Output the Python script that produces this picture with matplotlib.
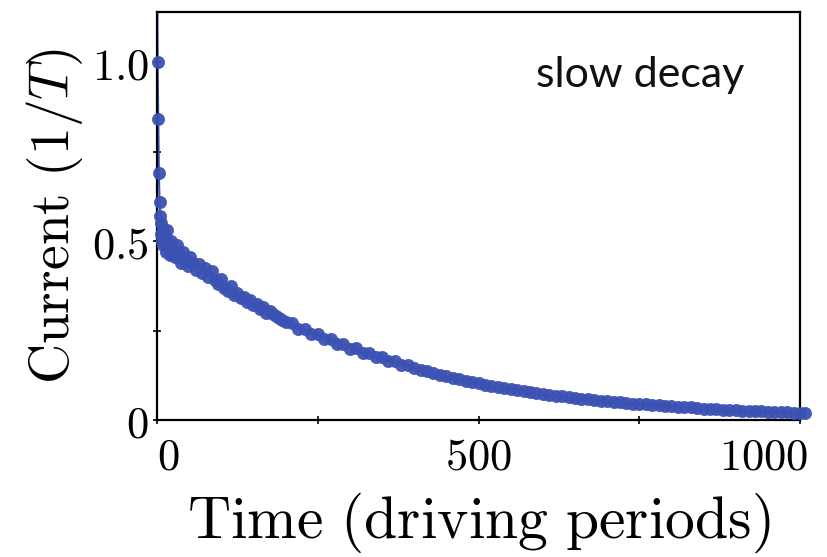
import matplotlib
matplotlib.use('Agg')
import matplotlib.pyplot as plt
import matplotlib.transforms as mtransforms

plt.rcParams['mathtext.fontset'] = 'cm'
plt.rcParams['font.family'] = 'DejaVu Serif'

## Data: current vs time, read per driving period
time = [0, 1, 2, 3, 4, 5, 6, 7, 8, 9, 10, 12, 14, 16, 18, 20, 22, 25, 28, 31,
        34, 37, 40, 44, 48, 52, 56, 60, 65, 70, 75, 80, 85, 90, 95, 100,
        105, 110, 115, 120, 125, 130, 135, 140, 145, 150, 155, 160, 165, 170,
        175, 180, 185, 190, 195, 200, 210, 220, 230, 240, 250, 260, 270, 280,
        290, 300, 310, 320, 330, 340, 350, 360, 370, 380, 390, 400, 410, 420,
        430, 440, 450, 460, 470, 480, 490, 500, 510, 520, 530, 540, 550, 560,
        570, 580, 590, 600, 610, 620, 630, 640, 650, 660, 670, 680, 690, 700,
        710, 720, 730, 740, 750, 760, 770, 780, 790, 800, 810, 820, 830, 840,
        850, 860, 870, 880, 890, 900, 910, 920, 930, 940, 950, 960, 970, 980,
        990, 1000, 1008]
current = [1.40, 1.00, 0.84, 0.69, 0.61, 0.57, 0.55, 0.52, 0.50, 0.535, 0.49,
           0.51, 0.47, 0.53, 0.48, 0.46, 0.50, 0.47, 0.455, 0.49,
           0.46, 0.44, 0.47, 0.445, 0.43, 0.455, 0.44, 0.42, 0.435, 0.41,
           0.425, 0.40, 0.415, 0.39, 0.38, 0.395,
           0.37, 0.36, 0.375, 0.35, 0.355, 0.34, 0.345, 0.33, 0.335, 0.32,
           0.325, 0.31, 0.315, 0.30,
           0.305, 0.295, 0.29, 0.285, 0.28, 0.275, 0.270, 0.255, 0.254, 0.239,
           0.239, 0.225, 0.226, 0.213,
           0.213, 0.199, 0.200, 0.187, 0.188, 0.175, 0.176, 0.164, 0.165,
           0.154, 0.153, 0.146, 0.141, 0.136,
           0.131, 0.127, 0.122, 0.118, 0.114, 0.110, 0.106, 0.103, 0.099,
           0.096, 0.092, 0.089, 0.086, 0.083,
           0.080, 0.078, 0.075, 0.072, 0.070, 0.068, 0.066, 0.064, 0.062,
           0.060, 0.058, 0.056, 0.054, 0.053,
           0.051, 0.049, 0.048, 0.046, 0.045, 0.044, 0.042, 0.041, 0.040,
           0.038, 0.037, 0.036, 0.035, 0.033,
           0.032, 0.031, 0.030, 0.029, 0.028, 0.027, 0.026, 0.025, 0.024,
           0.024, 0.023, 0.022, 0.021, 0.021,
           0.020, 0.019, 0.019]

xticks = [0, 250, 500, 750, 1000]
xticklabels = ['$0$', '', '$500$', '', '$1000$']
yticks = [0, 0.25, 0.5, 0.75, 1.0]
yticklabels = ['$0$', '', '$0.5$', '', '$1.0$']

blue = '#3b52b2'

fig = plt.figure(figsize=(8.27, 5.57), dpi=100)
ax = fig.add_axes([0.1898, 0.246, 0.7776, 0.7325])

ax.plot(time, current, '-', color=blue, lw=1.5, zorder=2)
ax.plot(time, current, 'o', ms=8.8, mfc=blue, mec=blue, mew=0.5,
        alpha=0.95, clip_on=False, zorder=3)

ax.set_xlim(0, 1000)
ax.set_ylim(0, 1.14)

ax.set_xticks(xticks)
ax.set_xticklabels(xticklabels)
ax.set_yticks(yticks)
ax.set_yticklabels(yticklabels)
ax.tick_params(direction='inout', length=6, width=1.2, labelsize=32)
ax.tick_params(axis='x', pad=8)
ax.tick_params(axis='y', pad=3)

labs = ax.get_xticklabels()
labs[0].set_horizontalalignment('left')
labs[-1].set_horizontalalignment('right')
labs[-1].set_transform(labs[-1].get_transform() +
                       mtransforms.ScaledTranslation(8/100, 0, fig.dpi_scale_trans))

for s in ax.spines.values():
    s.set_linewidth(1.6)

ax.set_xlabel(r'$\mathrm{Time\ (driving\ periods)}$', fontsize=43, labelpad=9)
ax.set_ylabel(r'$\mathrm{Current\ (1/}T\mathrm{)}$', fontsize=40, labelpad=5)

ax.text(0.914, 0.846, 'slow decay', transform=ax.transAxes, ha='right',
        va='center', fontsize=31, family='Lato', color='#111111')

fig.savefig('out.png', dpi=100)
